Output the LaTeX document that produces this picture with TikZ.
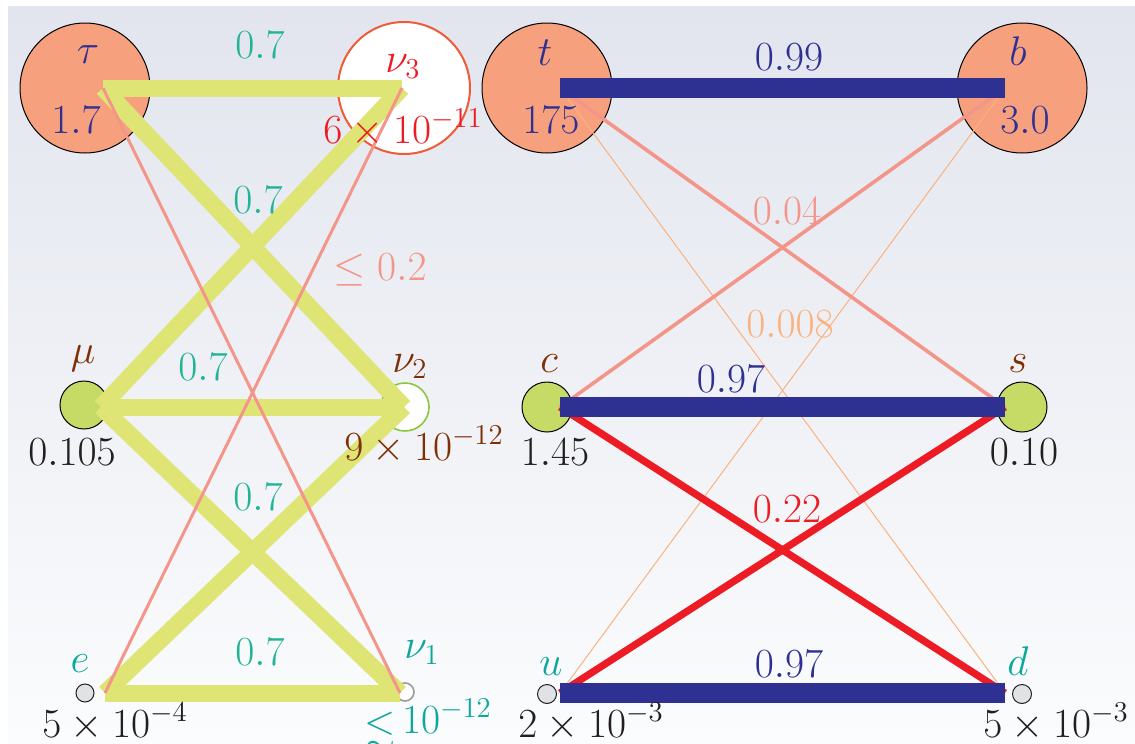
\documentclass[tikz,border=0pt]{standalone}
\usepackage{amssymb}
\definecolor{bgtop}{HTML}{E2E5EE}
\definecolor{bgbot}{HTML}{FBFCFD}
\definecolor{salmon}{HTML}{F6A07E}
\definecolor{lgreen}{HTML}{C6DA66}
\definecolor{lgray}{HTML}{E1E2E6}
\definecolor{dblue}{HTML}{2E3192}
\definecolor{qred}{HTML}{ED1C24}
\definecolor{teala}{HTML}{22B496}
\definecolor{tealb}{HTML}{0DA79D}
\definecolor{brown}{HTML}{7F2F06}
\definecolor{pink}{HTML}{F4958A}
\definecolor{lorange}{HTML}{FBB27E}
\definecolor{dtext}{HTML}{231F20}
\definecolor{nuthree}{HTML}{EF5A38}
\definecolor{nutwo}{HTML}{8CC63F}
\definecolor{nuone}{HTML}{9A9A9A}
\definecolor{yel}{HTML}{DEE575}
\begin{document}
\begin{tikzpicture}[x=0.5pt,y=-0.5pt,
  ball/.style={circle,inner sep=0pt,line width=0.5pt},
  lbl/.style={anchor=base,inner sep=0pt,font=\fontsize{20}{24}\selectfont},
  yline/.style={draw=yel,line width=8.5pt},
  pline/.style={draw=pink,line width=1.5pt},
  pmline/.style={draw=pink,line width=1.8pt},
  oline/.style={draw=lorange,line width=0.5pt},
  rline/.style={draw=qred,line width=3.6pt},
  bline/.style={draw=dblue,line width=10pt}]
\useasboundingbox (0,0) rectangle (1135,744);
\fill[top color=bgtop,bottom color=bgbot] (8,6) rectangle (1135,744);
% balls
\node[ball,fill=salmon,draw=black,minimum size=65pt] (tau) at (85,88) {};
\node[ball,fill=white,draw=nuthree,line width=1pt,minimum size=66pt] (nu3) at (404,88) {};
\node[ball,fill=salmon,draw=black,minimum size=65pt] (t) at (547,88) {};
\node[ball,fill=salmon,draw=black,minimum size=65pt] (b) at (1022,88) {};
\node[ball,fill=lgreen,draw=black,minimum size=24pt] (mu) at (84,405) {};
\node[ball,fill=white,draw=nutwo,line width=0.8pt,minimum size=24pt] (nu2) at (405,407) {};
\node[ball,fill=lgreen,draw=black,minimum size=25pt] (c) at (547,407) {};
\node[ball,fill=lgreen,draw=black,minimum size=25pt] (s) at (1022,407) {};
\node[ball,fill=lgray,draw=dtext,minimum size=9pt] (e) at (85,693) {};
\node[ball,fill=white,draw=nuone,line width=0.8pt,minimum size=9pt] (nu1) at (405,692) {};
\node[ball,fill=lgray,draw=dtext,minimum size=9.5pt] (u) at (547,694) {};
\node[ball,fill=lgray,draw=dtext,minimum size=9.5pt] (d) at (1022,694) {};
% end points
\coordinate (LA) at (103,88);  \coordinate (LB) at (402,88);
\coordinate (LC) at (101,407); \coordinate (LD) at (404,407);
\coordinate (LE) at (105,693); \coordinate (LF) at (400,693);
\coordinate (RA) at (560,88);  \coordinate (RB) at (1005,88);
\coordinate (RC) at (560,407); \coordinate (RD) at (1005,407);
\coordinate (RE) at (560,693); \coordinate (RF) at (1005,693);
% leptons
\draw[yline] (LA) -- (LB);
\draw[yline] (LA) -- (LD);
\draw[yline] (LB) -- (LC);
\draw[yline] (LC) -- (LD);
\draw[yline] (LC) -- (LF);
\draw[yline] (LD) -- (LE);
\draw[yline] (LE) -- (LF);
\draw[pline] (LA) -- (LF);
\draw[pline] (LB) -- (LE);
% quarks
\draw[oline] (RA) -- (RF);
\draw[oline] (RB) -- (RE);
\draw[pmline] (RA) -- (RD);
\draw[pmline] (RB) -- (RC);
\draw[rline] (RC) -- (RF);
\draw[rline] (RD) -- (RE);
\draw[bline] (RA) -- (RB);
\draw[bline] (RC) -- (RD);
\draw[bline] (RE) -- (RF);
% labels left
\node[lbl,text=dblue] (ltau) at (88,63) {$\tau$};
\node[lbl,text=dblue] (mtau) at (76,133) {$1.7$};
\node[lbl,text=qred] (lnu3) at (403,72) {$\nu_3$};
\node[lbl,text=qred] (mnu3) at (403,143) {$6\times10^{-11}$};
\node[lbl,text=brown] (lmu) at (83,363) {$\mu$};
\node[lbl,text=dtext] (mmu) at (72,465) {$0.105$};
\node[lbl,text=brown] (lnu2) at (410,372) {$\nu_2$};
\node[lbl,text=brown] (mnu2) at (424,460) {$9\times10^{-12}$};
\node[lbl,text=tealb] (le) at (80,672) {$e$};
\node[lbl,text=dtext] (me) at (115,737) {$5\times10^{-4}$};
\node[lbl,text=tealb] (lnu1) at (422,658) {$\nu_1$};
\node[lbl,text=tealb] (mnu1) at (428,733) {\raisebox{-0.2em}{$\lesssim$}\,$10^{-12}$};
\node[lbl,text=teala] (w1) at (260,58) {$0.7$};
\node[lbl,text=teala] (w2) at (258,213) {$0.7$};
\node[lbl,text=teala] (w3) at (203,380) {$0.7$};
\node[lbl,text=teala] (w4) at (258,510) {$0.7$};
\node[lbl,text=teala] (w5) at (260,665) {$0.7$};
\node[lbl,text=pink] (w6) at (380,280) {$\leq0.2$};
% labels right
\node[lbl,text=dblue] (lt) at (545,65) {$t$};
\node[lbl,text=dblue] (mt) at (551,133) {$175$};
\node[lbl,text=dblue] (lb) at (1018,65) {$b$};
\node[lbl,text=dblue] (mb) at (1025,133) {$3.0$};
\node[lbl,text=brown] (lc) at (549,372) {$c$};
\node[lbl,text=dtext] (mc) at (555,465) {$1.45$};
\node[lbl,text=brown] (ls) at (1018,372) {$s$};
\node[lbl,text=dtext] (ms) at (1024,465) {$0.10$};
\node[lbl,text=tealb] (lu) at (551,675) {$u$};
\node[lbl,text=dtext] (mu2) at (591,737) {$2\times10^{-3}$};
\node[lbl,text=tealb] (ld) at (1018,675) {$d$};
\node[lbl,text=dtext] (md) at (1056,737) {$5\times10^{-3}$};
\node[lbl,text=dblue] (v1) at (789,70) {$0.99$};
\node[lbl,text=pink] (v2) at (787,224) {$0.04$};
\node[lbl,text=lorange] (v3) at (790,337) {$0.008$};
\node[lbl,text=dblue] (v4) at (731,392) {$0.97$};
\node[lbl,text=qred] (v5) at (787,522) {$0.22$};
\node[lbl,text=dblue] (v6) at (789,677) {$0.97$};
\end{tikzpicture}
\end{document}
